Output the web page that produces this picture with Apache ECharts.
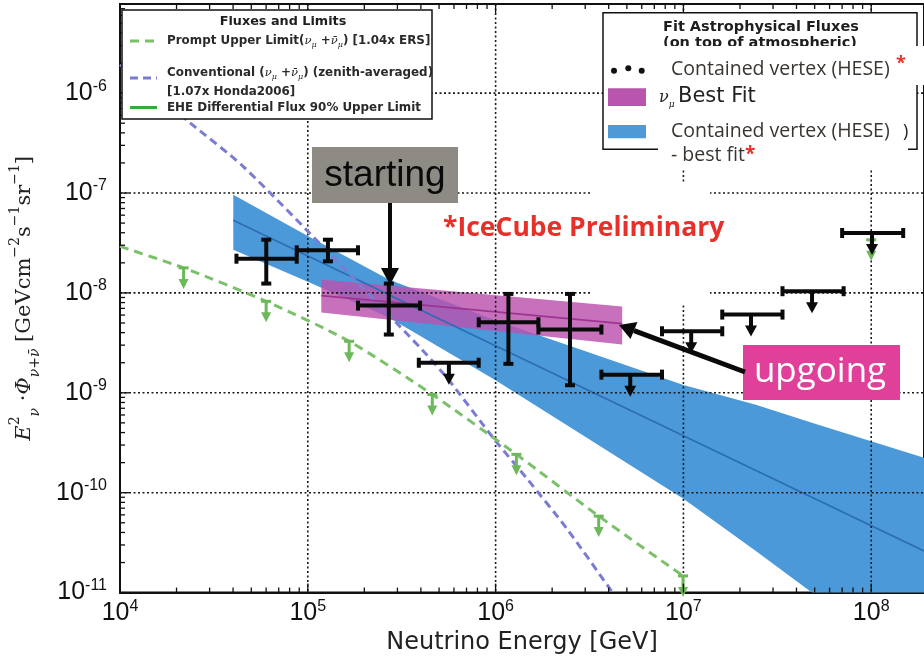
<!DOCTYPE html>
<html>
<head>
<meta charset="utf-8">
<script src="https://cdn.jsdelivr.net/npm/echarts@6.0.0/dist/echarts.min.js"></script>
<style>
html,body{margin:0;padding:0;background:#ffffff;}
#chart{width:924px;height:660px;}
</style>
</head>
<body>
<div id="chart"></div>
<script>
// ---------------- axis extents & grid decades ----------------
const xMin = 1e4, xMax = 1.91e8;
const yMin = 1e-11, yMax = 7.8e-6;
const gridXExp = [5, 6, 7, 8];
const gridYExp = [-10, -9, -8, -7, -6];

// ---------------- HESE contained-vertex points (E, flux, E range, flux range) ----------------
const heseE   = [6.01e4, 1.28e5, 2.70e5, 1.17e6, 2.49e6];
const heseF   = [2.20e-8, 2.67e-8, 7.46e-9, 5.08e-9, 4.30e-9];
const heseElo = [4.17e4, 8.73e4, 1.85e5, 8.13e5, 1.69e6];
const heseEhi = [8.73e4, 1.85e5, 3.96e5, 1.69e6, 3.66e6];
const heseFlo = [1.24e-8, 2.07e-8, 3.83e-9, 1.95e-9, 1.19e-9];
const heseFhi = [3.41e-8, 3.41e-8, 1.24e-8, 9.77e-9, 9.77e-9];

// ---------------- HESE upper limits ----------------
const ulE   = [5.64e5, 5.21e6, 1.10e7, 2.29e7, 4.84e7, 1.01e8];
const ulF   = [2.0e-9, 1.52e-9, 4.13e-9, 6.07e-9, 1.04e-8, 3.98e-8];
const ulElo = [3.90e5, 3.66e6, 7.69e6, 1.61e7, 3.37e7, 7.0e7];
const ulEhi = [8.13e5, 7.69e6, 1.61e7, 3.37e7, 7.13e7, 1.48e8];

// ---------------- green upper-limit markers ----------------
const greenE = [2.18e4, 6.0e4, 1.66e5, 4.60e5, 1.29e6, 3.54e6, 9.95e6, 1.0e8];
const greenF = [1.78e-8, 8.24e-9, 3.28e-9, 9.62e-10, 2.42e-10, 5.83e-11, 1.47e-11, 3.4e-8];

// ---------------- prompt upper limit (green dashed) ----------------
const promptE = [1e4, 2.18e4, 6.0e4, 1.66e5, 4.60e5, 1.29e6, 3.54e6, 9.95e6];
const promptF = [2.92e-8, 1.78e-8, 8.24e-9, 3.28e-9, 9.62e-10, 2.42e-10, 5.83e-11, 1.47e-11];

// ---------------- conventional atmospheric (purple dashed) ----------------
const convE = [1e4, 2.37e4, 4.52e4, 1.35e5, 4.05e5, 5.60e5, 9.86e5, 1.48e6, 2.41e6, 4.08e6, 4.47e6];
const convF = [1.93e-6, 5.01e-7, 1.85e-7, 2.32e-8, 2.71e-9, 1.36e-9, 3.41e-10, 1.36e-10, 4.30e-11, 1.08e-11, 8.7e-12];

// ---------------- HESE best-fit band (blue) ----------------
const bandE     = [4.01e4, 1.0e5, 2.70e5, 9.84e5, 2.83e6, 1.0e7, 2.43e7, 4.83e7, 1.91e8];
const bandUpper = [9.62e-8, 3.72e-8, 1.36e-8, 5.37e-9, 2.71e-9, 1.20e-9, 7.59e-10, 5.01e-10, 2.24e-10];
const bandLower = [2.71e-8, 1.29e-8, 5.66e-9, 1.36e-9, 3.89e-10, 8.71e-11, 2.61e-11, 1.0e-11, 1.12e-12];
const fitE = [4.01e4, 1.91e8];
const fitF = [5.33e-8, 2.61e-11];

// ---------------- numu best-fit band (magenta) ----------------
const numuE     = [1.18e5, 4.72e6];
const numuUpper = [1.36e-8, 7.3e-9];
const numuLower = [6.35e-9, 3.04e-9];
const numuFit   = [9.4e-9, 4.93e-9];

// ---------------- helpers ----------------
function st(color, w) { return { stroke: color, lineWidth: w, lineCap: 'butt' }; }
function ln(x1, y1, x2, y2, color, w) { return { type: 'line', shape: { x1, y1, x2, y2 }, style: st(color, w) }; }

function renderHese(params, api) {
  const c = api.coord([api.value(0), api.value(1)]);
  const l = api.coord([api.value(2), api.value(1)]);
  const r = api.coord([api.value(3), api.value(1)]);
  const b = api.coord([api.value(0), api.value(4)]);
  const t = api.coord([api.value(0), api.value(5)]);
  const k = '#0a0a0a', w = 4, cap = 5;
  return { type: 'group', children: [
    ln(l[0], c[1], r[0], c[1], k, w),
    ln(c[0], t[1], c[0], b[1], k, w),
    ln(l[0], c[1] - cap, l[0], c[1] + cap, k, w),
    ln(r[0], c[1] - cap, r[0], c[1] + cap, k, w),
    ln(c[0] - cap, t[1], c[0] + cap, t[1], k, w),
    ln(c[0] - cap, b[1], c[0] + cap, b[1], k, w)
  ]};
}
function renderUL(params, api) {
  const c = api.coord([api.value(0), api.value(1)]);
  const l = api.coord([api.value(2), api.value(1)]);
  const r = api.coord([api.value(3), api.value(1)]);
  const k = '#0a0a0a', w = 4, cap = 5;
  return { type: 'group', children: [
    ln(l[0], c[1], r[0], c[1], k, w),
    ln(l[0], c[1] - cap, l[0], c[1] + cap, k, w),
    ln(r[0], c[1] - cap, r[0], c[1] + cap, k, w),
    ln(c[0], c[1], c[0], c[1] + 13, k, w),
    { type: 'polygon', shape: { points: [[c[0] - 6, c[1] + 11], [c[0] + 6, c[1] + 11], [c[0], c[1] + 22]] }, style: { fill: k } }
  ]};
}
function renderGreen(params, api) {
  const c = api.coord([api.value(0), api.value(1)]);
  const g = '#6cb85a', w = 3;
  return { type: 'group', children: [
    ln(c[0] - 5, c[1], c[0] + 5, c[1], g, w),
    ln(c[0], c[1], c[0], c[1] + 13, g, w),
    { type: 'polygon', shape: { points: [[c[0] - 5, c[1] + 11], [c[0] + 5, c[1] + 11], [c[0], c[1] + 21]] }, style: { fill: g } }
  ]};
}
function bandRenderer(color, opacity) {
  return function (params, api) {
    if (params.dataIndex !== 0) return null;
    const n = params.dataInsideLength;
    const top = [], bot = [];
    for (let i = 0; i < n; i++) {
      top.push(api.coord([api.value(0, i), api.value(1, i)]));
      bot.push(api.coord([api.value(0, i), api.value(2, i)]));
    }
    return { type: 'polygon', shape: { points: top.concat(bot.reverse()) }, style: { fill: color, opacity: opacity } };
  };
}
function renderGrid(params, api) {
  if (params.dataIndex !== 0) return null;
  const cs = params.coordSys;
  const ch = [];
  const s = () => ({ stroke: '#1a1a1a', lineWidth: 1.6, lineDash: [2, 2.5] });
  gridXExp.forEach(d => {
    const px = api.coord([Math.pow(10, d), yMin])[0];
    ch.push({ type: 'line', shape: { x1: px, y1: cs.y, x2: px, y2: cs.y + cs.height }, style: s() });
  });
  gridYExp.forEach(d => {
    const py = api.coord([xMin, Math.pow(10, d)])[1];
    ch.push({ type: 'line', shape: { x1: cs.x, y1: py, x2: cs.x + cs.width, y2: py }, style: s() });
  });
  return { type: 'group', children: ch };
}
function renderTicks(params, api) {
  if (params.dataIndex !== 0) return null;
  const cs = params.coordSys;
  const ch = [];
  const col = '#111';
  for (let d = 4; d <= 8; d++) for (let k = 1; k <= 9; k++) {
    const v = k * Math.pow(10, d);
    if (v < xMin || v > xMax) continue;
    const px = api.coord([v, yMin])[0];
    const len = k === 1 ? 9 : 5;
    ch.push(ln(px, cs.y + cs.height, px, cs.y + cs.height - len, col, 1.3));
    ch.push(ln(px, cs.y, px, cs.y + len, col, 1.3));
  }
  for (let d = -11; d <= -6; d++) for (let k = 1; k <= 9; k++) {
    const v = k * Math.pow(10, d);
    if (v < yMin || v > yMax) continue;
    const py = api.coord([xMin, v])[1];
    const len = k === 1 ? 9 : 5;
    ch.push(ln(cs.x, py, cs.x + len, py, col, 1.3));
  }
  return { type: 'group', children: ch };
}

function logLabel(v) {
  const e = Math.log10(v), r = Math.round(e);
  if (Math.abs(e - r) > 1e-6) return '';
  return '{b|10}{s|' + r + '}';
}
const labelRich = {
  b: { fontSize: 25, fontFamily: 'Liberation Sans', color: '#111', lineHeight: 30, verticalAlign: 'middle' },
  s: { fontSize: 16, fontFamily: 'Liberation Sans', color: '#111', lineHeight: 14, verticalAlign: 'top' }
};

// ---------------- graphic (legends, annotations) ----------------
const G = [];
function gRect(x, y, w, h, fill, stroke, lw, z) { G.push({ type: 'rect', z: z || 100, silent: true, shape: { x, y, width: w, height: h }, style: { fill: fill, stroke: stroke || null, lineWidth: lw || 0 } }); }
function gText(x, y, text, s, z) { G.push({ type: 'text', z: z || 101, silent: true, x, y, style: Object.assign({ text, fill: '#222', align: 'left', verticalAlign: 'middle' }, s) }); }
function gLine(x1, y1, x2, y2, stroke, lw, dash, z) { G.push({ type: 'line', z: z || 101, silent: true, shape: { x1, y1, x2, y2 }, style: { stroke, lineWidth: lw, lineDash: dash || null } }); }
function gPoly(pts, fill, z) { G.push({ type: 'polygon', z: z || 101, silent: true, shape: { points: pts }, style: { fill } }); }
function gCircle(cx, cy, r, fill, z) { G.push({ type: 'circle', z: z || 101, silent: true, shape: { cx, cy, r }, style: { fill } }); }

// white patch of the pasted upgoing panel (hides the grid there)
gRect(590, 183, 120, 120, '#ffffff', null, 0, 3);

const legFont = { fontFamily: 'DejaVu Sans', fontWeight: 'bold', fontSize: 11.9, lineHeight: 16, fill: '#2a2a2a' };
const legRich = {
  it: { fontFamily: 'DejaVu Serif', fontStyle: 'italic', fontSize: 11.5, fill: '#2a2a2a', lineHeight: 16 },
  sb: { fontFamily: 'DejaVu Serif', fontStyle: 'italic', fontSize: 8, fill: '#2a2a2a', lineHeight: 9, verticalAlign: 'bottom' }
};
// left legend
gRect(122, 10, 310, 109, '#ffffff', '#111', 1.5, 100);
gText(283, 22, 'Fluxes and Limits', { fontFamily: 'DejaVu Sans', fontWeight: 'bold', fontSize: 12.8, align: 'center', fill: '#1e1e1e' });
gLine(130, 41, 157, 41, '#7cc06c', 3, [9, 6]);
gText(167, 41, 'Prompt Upper Limit({it|ν}{sb|μ} +{it|ν̄}{sb|μ}) [1.04x ERS]', Object.assign({ rich: legRich }, legFont));
gLine(130, 78, 157, 78, '#7b7bd4', 3, [8, 5]);
gText(167, 73, 'Conventional ({it|ν}{sb|μ} +{it|ν̄}{sb|μ}) (zenith-averaged)', Object.assign({ rich: legRich }, legFont));
gText(167, 91.5, '[1.07x Honda2006]', legFont);
gLine(130, 107.5, 157, 107.5, '#36a845', 3);
gText(167, 107.5, 'EHE Differential Flux 90% Upper Limit', legFont);

// right legend
gRect(603, 12.7, 314, 136.6, '#ffffff', '#111', 1.5, 100);
gText(663, 27, 'Fit Astrophysical Fluxes', { fontFamily: 'DejaVu Sans', fontWeight: 'bold', fontSize: 14.5, fill: '#1e1e1e' });
gText(663, 43.5, '(on top of atmospheric)', { fontFamily: 'DejaVu Sans', fontWeight: 'bold', fontSize: 14.5, fill: '#1e1e1e' });
gRect(658, 46, 266, 39, '#ffffff', null, 0, 102);
gRect(658, 85, 250, 85, '#ffffff', null, 0, 102);
gCircle(614, 70.7, 3, '#111', 103);
gCircle(628.3, 68.3, 3, '#111', 103);
gCircle(641.7, 70.7, 3, '#111', 103);
const rlFont = { fontFamily: 'Open Sans', fontSize: 19.5, fill: '#3a3530' };
gText(671, 69, 'Contained vertex (HESE)', rlFont, 103);
gText(896, 64, '*', { fontFamily: 'Open Sans', fontSize: 18, fontWeight: 'bold', fill: '#e8302a' }, 103);
gRect(608, 88.3, 38, 17.7, '#b955ac', null, 0, 103);
gText(659, 98, '{n|ν}{m|μ}', { rich: { n: { fontFamily: 'DejaVu Serif', fontStyle: 'italic', fontSize: 16, fill: '#222', lineHeight: 22 }, m: { fontFamily: 'DejaVu Serif', fontStyle: 'italic', fontSize: 9, fill: '#222', lineHeight: 9, verticalAlign: 'bottom' } } }, 103);
gText(678, 97, 'Best Fit', { fontFamily: 'DejaVu Sans', fontSize: 21, fill: '#222' }, 103);
gRect(608, 125, 38, 13.3, '#4d9ad6', null, 0, 103);
gText(671, 131.5, 'Contained vertex (HESE)', rlFont, 103);
gText(903, 131.5, ')', { fontFamily: 'Open Sans', fontSize: 18, fill: '#222' }, 103);
gText(671, 155, '- best fit{r|*}', Object.assign({ rich: { r: { fontFamily: 'Open Sans', fontSize: 19, fontWeight: 'bold', fill: '#e8302a' } } }, rlFont), 103);

// "starting" annotation
gRect(312, 147, 146, 56, '#8e8b84', null, 0, 104);
gText(385, 176, 'starting', { fontFamily: 'Liberation Sans', fontSize: 37, fill: '#0a0a0a', align: 'center' }, 105);
gLine(390, 203, 390, 270, '#0a0a0a', 4, null, 105);
gPoly([[381, 268], [399, 268], [390, 285]], '#0a0a0a', 105);

// IceCube Preliminary
gText(443, 228, '*IceCube Preliminary', { fontFamily: 'Open Sans', fontWeight: 'bold', fontSize: 26.5, fill: '#e8302a' }, 105);

// "upgoing" annotation
gRect(743, 345, 157, 55, '#e0409a', null, 0, 104);
gText(820, 372, 'upgoing', { fontFamily: 'Open Sans', fontSize: 35, fill: '#ffffff', align: 'center' }, 105);
gLine(745, 372, 634, 330.6, '#0a0a0a', 5, null, 105);
gPoly([[637.5, 322], [630.5, 339], [619, 325]], '#0a0a0a', 105);

// ---------------- chart ----------------
const chart = echarts.init(document.getElementById('chart'), null, { renderer: 'canvas' });
const option = {
  animation: false,
  backgroundColor: '#ffffff',
  grid: { left: 116, top: 4, right: -2, bottom: 66.7, show: true, borderColor: '#111', borderWidth: 2, backgroundColor: 'transparent', containLabel: false },
  xAxis: {
    type: 'log', logBase: 10, min: xMin, max: xMax,
    name: 'Neutrino Energy [GeV]', nameLocation: 'middle', nameGap: 35,
    nameTextStyle: { fontFamily: 'DejaVu Sans', fontSize: 24, color: '#222' },
    axisLine: { show: true, lineStyle: { color: '#111', width: 2 } },
    axisTick: { show: false },
    axisLabel: { formatter: logLabel, rich: labelRich, margin: 6, showMaxLabel: false },
    splitLine: { show: false }
  },
  yAxis: {
    type: 'log', logBase: 10, min: yMin, max: yMax,
    name: '{i|E}{sp|2}{sb|ν}{r| ·}{i|Φ}{sb|ν+ν̄}{r| [GeVcm}{sp|−2}{r|s}{sp|−1}{r|sr}{sp|−1}{r|]}',
    nameLocation: 'middle', nameGap: 78, nameRotate: 90,
    nameTextStyle: {
      rich: {
        i: { fontFamily: 'DejaVu Serif', fontStyle: 'italic', fontSize: 21, color: '#222', lineHeight: 34 },
        r: { fontFamily: 'DejaVu Serif', fontSize: 21, color: '#222', lineHeight: 34 },
        sp: { fontFamily: 'DejaVu Serif', fontSize: 14, color: '#222', lineHeight: 14, verticalAlign: 'top' },
        sb: { fontFamily: 'DejaVu Serif', fontStyle: 'italic', fontSize: 14, color: '#222', lineHeight: 12, verticalAlign: 'bottom' }
      }
    },
    axisLine: { show: true, lineStyle: { color: '#111', width: 2 } },
    axisTick: { show: false },
    axisLabel: { formatter: logLabel, rich: labelRich, margin: 13, showMaxLabel: false },
    splitLine: { show: false }
  },
  graphic: G,
  series: [
    { name: 'Contained vertex (HESE) - best fit', type: 'custom', z: 1, clip: true, silent: true,
      renderItem: bandRenderer('#4b99d8', 1),
      encode: { x: 0, y: 1 },
      data: bandE.map((e, i) => [e, bandUpper[i], bandLower[i]]) },
    { name: 'HESE fit line', type: 'line', z: 1, silent: true, showSymbol: false,
      data: fitE.map((e, i) => [e, fitF[i]]),
      lineStyle: { color: '#2c6db3', width: 1.6 } },
    { name: 'νμ Best Fit', type: 'custom', z: 1, clip: true, silent: true,
      renderItem: bandRenderer('#bb52ae', 0.82),
      encode: { x: 0, y: 1 },
      data: numuE.map((e, i) => [e, numuUpper[i], numuLower[i]]) },
    { name: 'νμ fit line', type: 'line', z: 1, silent: true, showSymbol: false,
      data: numuE.map((e, i) => [e, numuFit[i]]),
      lineStyle: { color: '#9c3490', width: 1.6 } },
    { name: 'grid lines', type: 'custom', z: 2, clip: false, silent: true,
      renderItem: renderGrid, encode: { x: 0, y: 1 },
      data: [[2 * xMin, 2 * yMin]] },
    { name: 'Conventional', type: 'line', silent: true, showSymbol: false, smooth: 0.25, z: 4,
      data: convE.map((e, i) => [e, convF[i]]),
      lineStyle: { color: '#7b7bd4', width: 3, type: [8, 5] } },
    { name: 'Prompt Upper Limit', type: 'line', silent: true, showSymbol: false, smooth: 0.25, z: 4,
      data: promptE.map((e, i) => [e, promptF[i]]),
      lineStyle: { color: '#7cc06c', width: 3, type: [9, 6] } },
    { name: 'EHE limits', type: 'custom', silent: true, z: 5, clip: false,
      renderItem: renderGreen, encode: { x: 0, y: 1 },
      data: greenE.map((e, i) => [e, greenF[i]]) },
    { name: 'Contained vertex (HESE)', type: 'custom', silent: true, z: 6, clip: false,
      renderItem: renderHese, encode: { x: 0, y: 1 },
      data: heseE.map((e, i) => [e, heseF[i], heseElo[i], heseEhi[i], heseFlo[i], heseFhi[i]]) },
    { name: 'HESE upper limits', type: 'custom', silent: true, z: 6, clip: false,
      renderItem: renderUL, encode: { x: 0, y: 1 },
      data: ulE.map((e, i) => [e, ulF[i], ulElo[i], ulEhi[i]]) },
    { name: 'ticks', type: 'custom', silent: true, z: 7, clip: false,
      renderItem: renderTicks, encode: { x: 0, y: 1 },
      data: [[2 * xMin, 2 * yMin]] }
  ]
};
chart.setOption(option);
</script>
</body>
</html>
